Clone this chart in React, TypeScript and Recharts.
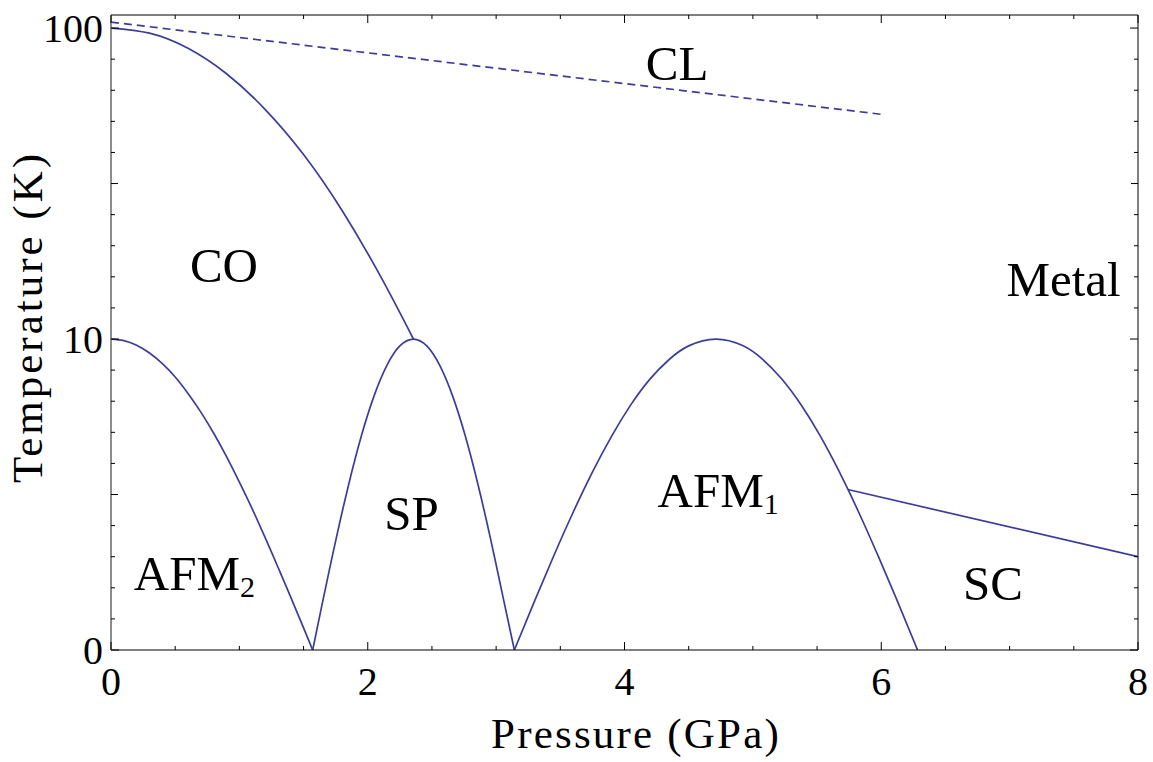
import React from 'react';
import { LineChart, Line, XAxis, YAxis, ReferenceDot, ReferenceLine, Label } from 'recharts';

// ---------- data (pressure in GPa, temperature in K) ----------
const afm2P = [0, 0.1, 0.2, 0.3, 0.4, 0.5, 0.6, 0.7, 0.8, 0.9, 1.0, 1.1, 1.2, 1.3, 1.4, 1.5, 1.571];
const afm2T = [10, 9.95, 9.8, 9.55, 9.21, 8.78, 8.25, 7.65, 6.97, 6.22, 5.4, 4.54, 3.62, 2.67, 1.7, 0.71, 0];

const spP = [1.571, 1.65, 1.75, 1.85, 1.95, 2.05, 2.15, 2.25, 2.356, 2.46, 2.56, 2.66, 2.76, 2.86, 2.96, 3.06, 3.142];
const spT = [0, 1.58, 3.51, 5.3, 6.88, 8.18, 9.16, 9.78, 10, 9.78, 9.16, 8.18, 6.88, 5.3, 3.51, 1.58, 0];

const afm1P = [3.142, 3.3, 3.45, 3.6, 3.75, 3.9, 4.05, 4.2, 4.35, 4.5, 4.712, 4.92, 5.07, 5.22, 5.37, 5.52, 5.67, 5.82, 5.97, 6.12, 6.283];
const afm1T = [0, 1.58, 3.04, 4.43, 5.72, 6.88, 7.89, 8.72, 9.35, 9.78, 10, 9.79, 9.37, 8.74, 7.92, 6.92, 5.76, 4.47, 3.08, 1.63, 0];

const scP = [5.74, 8];
const scT = [5.16, 3.0];

const coP = [0, 0.3, 0.6, 0.9, 1.2, 1.5, 1.8, 2.1, 2.356];
const coT = [100, 96.3, 86.1, 71.3, 54.8, 39.2, 25.9, 15.9, 10];

const clP = [0, 6];
const clT = [104.5, 52.8];

// tick values
const xTicks = [0, 0.5, 1, 1.5, 2, 2.5, 3, 3.5, 4, 4.5, 5, 5.5, 6, 6.5, 7, 7.5, 8];
const xTickLabels = ['0', '2', '4', '6', '8'];
const xLabelValues = [0, 2, 4, 6, 8];
const yTempTicks = [0, 10, 100];
const yTempLabels = ['0', '10', '100'];

// region labels
const regionNames = ['CL', 'CO', 'Metal', 'SP', 'AFM', 'AFM', 'SC'];
const regionSubs = ['', '', '', '', '1', '2', ''];
const regionP = [4.41, 0.88, 7.42, 2.34, 4.73, 0.65, 6.87];
const regionT = [68.1, 15.3, 13.8, 3.86, 4.6, 1.93, 1.6];

// ---------- layout / style ----------
const W = 1153;
const H = 762;
const PLOT_LEFT = 111;
const PLOT_RIGHT = 1138;
const PLOT_TOP = 15;
const PLOT_BOTTOM = 650;
const Y_MAX = 2.042;
const FONT = "'Liberation Serif', 'Times New Roman', Times, serif";
const LINE_COLOR = '#3d3d99';

// axis coordinate: linear 0..10 K, logarithmic above 10 K
const toAxis = (t: number) => (t <= 10 ? t / 10 : 1 + Math.log10(t / 10));
const build = (ps: number[], ts: number[]) => ps.map((p, i) => ({ p, y: toAxis(ts[i]) }));

const yTicks: number[] = [];
for (let i = 0; i <= 20; i++) yTicks.push(i / 10);

const near = (a: number, b: number) => Math.abs(a - b) < 1e-6;

const XTick = (props: any) => {
  const { x, payload } = props;
  const v = payload.value as number;
  const li = xLabelValues.findIndex((m) => near(m, v));
  const len = li >= 0 ? 8 : 4;
  return (
    <g>
      <line x1={x} y1={PLOT_BOTTOM} x2={x} y2={PLOT_BOTTOM - len} stroke="#000" strokeWidth={1} />
      <line x1={x} y1={PLOT_TOP} x2={x} y2={PLOT_TOP + len} stroke="#000" strokeWidth={1} />
      {li >= 0 && (
        <text x={x} y={695} textAnchor="middle" fontSize={40} fontFamily={FONT} fill="#000">
          {xTickLabels[li]}
        </text>
      )}
    </g>
  );
};

const YTick = (props: any) => {
  const { y, payload } = props;
  const v = payload.value as number;
  const li = yTempTicks.findIndex((t) => near(toAxis(t), v));
  const half = near(v, 0.5) || near(v, 1.5);
  const len = li >= 0 ? 8 : half ? 7 : 4;
  return (
    <g>
      <line x1={PLOT_LEFT} y1={y} x2={PLOT_LEFT + len} y2={y} stroke="#000" strokeWidth={1} />
      <line x1={PLOT_RIGHT} y1={y} x2={PLOT_RIGHT - len} y2={y} stroke="#000" strokeWidth={1} />
      {li >= 0 && (
        <text x={103} y={y + 14} textAnchor="end" fontSize={40} fontFamily={FONT} fill="#000">
          {yTempLabels[li]}
        </text>
      )}
    </g>
  );
};

const regionShape = (i: number) => (props: any) => {
  const { cx, cy } = props;
  return (
    <text x={cx} y={cy} textAnchor="middle" fontSize={49} fontFamily={FONT} fill="#000">
      {regionNames[i]}
      {regionSubs[i] && (
        <tspan fontSize={30} dy={7}>
          {regionSubs[i]}
        </tspan>
      )}
    </text>
  );
};

const lineProps = {
  dataKey: 'y',
  stroke: LINE_COLOR,
  strokeWidth: 1.7,
  dot: false,
  activeDot: false,
  isAnimationActive: false,
} as const;

export default function App() {
  return (
    <div style={{ position: 'absolute', left: 0, top: 0, width: W, height: H, background: '#fff' }}>
      <LineChart width={W} height={H} margin={{ top: PLOT_TOP, right: W - PLOT_RIGHT, bottom: 0, left: 0 }}>
        <XAxis
          type="number"
          dataKey="p"
          domain={[0, 8]}
          ticks={xTicks}
          interval={0}
          allowDataOverflow
          height={H - PLOT_BOTTOM}
          tickSize={0}
          tickMargin={0}
          tickLine={false}
          axisLine={{ stroke: '#000', strokeWidth: 1 }}
          tick={<XTick />}
        >
          <Label
            content={() => (
              <text x={636} y={748} textAnchor="middle" fontSize={43} letterSpacing={2.2} fontFamily={FONT} fill="#000">
                Pressure (GPa)
              </text>
            )}
          />
        </XAxis>
        <YAxis
          type="number"
          domain={[0, Y_MAX]}
          ticks={yTicks}
          interval={0}
          allowDataOverflow
          width={PLOT_LEFT}
          tickSize={0}
          tickMargin={0}
          tickLine={false}
          axisLine={{ stroke: '#666', strokeWidth: 1.5 }}
          tick={<YTick />}
        >
          <Label
            content={() => (
              <text
                x={42}
                y={317}
                transform="rotate(-90 42 317)"
                textAnchor="middle"
                fontSize={43}
                letterSpacing={3}
                fontFamily={FONT}
                fill="#000"
              >
                Temperature (K)
              </text>
            )}
          />
        </YAxis>
        <ReferenceLine y={Y_MAX} stroke="#000" strokeWidth={1} ifOverflow="visible" />
        <ReferenceLine x={8} stroke="#000" strokeWidth={1} ifOverflow="visible" />

        <Line {...lineProps} data={build(afm2P, afm2T)} type="natural" />
        <Line {...lineProps} data={build(spP, spT)} type="natural" />
        <Line {...lineProps} data={build(afm1P, afm1T)} type="natural" />
        <Line {...lineProps} data={build(scP, scT)} type="linear" />
        <Line {...lineProps} data={build(coP, coT)} type="natural" />
        <Line {...lineProps} data={build(clP, clT)} type="linear" strokeDasharray="8 5" />

        {regionNames.map((_, i) => (
          <ReferenceDot
            key={i}
            x={regionP[i]}
            y={toAxis(regionT[i])}
            r={0}
            ifOverflow="visible"
            shape={regionShape(i)}
          />
        ))}
      </LineChart>
    </div>
  );
}
